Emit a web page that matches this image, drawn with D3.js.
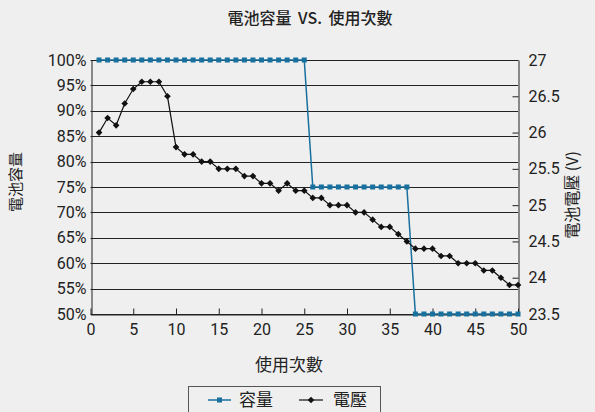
<!DOCTYPE html>
<html>
<head>
<meta charset="utf-8">
<script src="https://cdn.jsdelivr.net/npm/d3@7"></script>
<style>
  body { margin: 0; background: #efefef; }
  text { font-family: "Noto Sans CJK TC", "Noto Sans", sans-serif; fill: #222; }
  .num { font-family: Roboto, "Noto Sans", sans-serif; }
</style>
</head>
<body>
<script>
    // usage count, 1..50
    const cycles = d3.range(1, 51);
    // capacity (%) per cycle
    const capacity = [
        100,100,100,100,100,100,100,100,100,100,
        100,100,100,100,100,100,100,100,100,100,
        100,100,100,100,100,75,75,75,75,75,
        75,75,75,75,75,75,75,50,50,50,
        50,50,50,50,50,50,50,50,50,50
    ];
    // voltage (V) per cycle
    const voltage = [
        26.0,26.2,26.1,26.4,26.6,26.7,26.7,26.7,26.5,25.8,
        25.7,25.7,25.6,25.6,25.5,25.5,25.5,25.4,25.4,25.3,
        25.3,25.2,25.3,25.2,25.2,25.1,25.1,25.0,25.0,25.0,
        24.9,24.9,24.8,24.7,24.7,24.6,24.5,24.4,24.4,24.4,
        24.3,24.3,24.2,24.2,24.2,24.1,24.1,24.0,23.9,23.9
    ];
    const xTicks = d3.range(0, 51, 5);
    const capTicks = d3.range(50, 101, 5);
    const voltTicks = [23.5, 24, 24.5, 25, 25.5, 26, 26.5, 27];

    const W = 595, H = 412;
    const BLUE = '#17709e';

    const svg = d3.select('body').append('svg')
        .attr('width', W)
        .attr('height', H);

    svg.append('rect').attr('width', W).attr('height', H).attr('fill', '#efefef');

    const x = d3.scaleLinear().domain([0, 50]).range([90.5, 518]);
    const yL = d3.scaleLinear().domain([50, 100]).range([314, 60]);
    const yR = d3.scaleLinear().domain([23.5, 27]).range([314, 60]);

    // title
    svg.append('text')
        .attr('x', 310).attr('y', 24)
        .attr('text-anchor', 'middle')
        .style('font-size', '16px').style('font-weight', '500')
        .style('word-spacing', '3px')
        .text('電池容量 VS. 使用次數');

    // grid
    svg.append('g').selectAll('line').data(capTicks).join('line')
        .attr('x1', x(0)).attr('x2', x(50))
        .attr('y1', d => Math.round(yL(d)) + 0.5).attr('y2', d => Math.round(yL(d)) + 0.5)
        .attr('stroke', '#222').attr('stroke-width', 1);

    // left axis
    const gL = svg.append('g').attr('transform', `translate(${Math.round(x(0)) + 0.5},0)`)
        .call(d3.axisLeft(yL).tickValues(capTicks).tickSize(0).tickPadding(5).tickFormat(d => d + '%'));
    gL.select('.domain').attr('stroke', '#222');
    gL.selectAll('text').attr('class', 'num').style('font-size', '16px').attr('fill', '#222');

    // right axis
    const gR = svg.append('g').attr('transform', `translate(${Math.round(x(50)) + 0.5},0)`)
        .call(d3.axisRight(yR).tickValues(voltTicks).tickSize(0).tickPadding(10).tickFormat(d3.format('~g')));
    gR.select('.domain').attr('stroke', '#222');
    gR.selectAll('text').attr('class', 'num').style('font-size', '16px').attr('fill', '#222');
    gR.selectAll('.tick').append('line')
        .attr('x1', -6).attr('x2', 0).attr('stroke', '#222');

    // bottom axis
    const gB = svg.append('g').attr('transform', `translate(0,${Math.round(yL(50)) + 0.5})`)
        .call(d3.axisBottom(x).tickValues(xTicks).tickSize(0).tickPadding(9));
    gB.select('.domain').attr('stroke', '#222');
    gB.selectAll('text').attr('class', 'num').style('font-size', '16px').attr('fill', '#222');
    gB.selectAll('.tick').append('line')
        .attr('y1', -6).attr('y2', 0).attr('stroke', '#222');

    // axis titles
    svg.append('text')
        .attr('transform', 'translate(21,182) rotate(-90)')
        .attr('text-anchor', 'middle')
        .style('font-size', '15px')
        .text('電池容量');
    svg.append('text')
        .attr('transform', 'translate(578,195) rotate(-90)')
        .attr('text-anchor', 'middle')
        .style('font-size', '16px')
        .text('電池電壓 (V)');
    svg.append('text')
        .attr('x', 289).attr('y', 371)
        .attr('text-anchor', 'middle')
        .style('font-size', '17px')
        .text('使用次數');

    // capacity series
    const capLine = d3.line().x((d, i) => x(cycles[i])).y(d => yL(d));
    svg.append('path').datum(capacity)
        .attr('d', capLine)
        .attr('fill', 'none').attr('stroke', BLUE).attr('stroke-width', 1.5);
    svg.append('g').selectAll('rect').data(capacity).join('rect')
        .attr('x', (d, i) => x(cycles[i]) - 2.5)
        .attr('y', d => yL(d) - 2.5)
        .attr('width', 5).attr('height', 5)
        .attr('fill', BLUE);

    // voltage series
    const voltLine = d3.line().x((d, i) => x(cycles[i])).y(d => yR(d));
    svg.append('path').datum(voltage)
        .attr('d', voltLine)
        .attr('fill', 'none').attr('stroke', '#111').attr('stroke-width', 1.2);
    svg.append('g').selectAll('path').data(voltage).join('path')
        .attr('d', d3.symbol(d3.symbolDiamond2, 28))
        .attr('transform', (d, i) => `translate(${x(cycles[i])},${yR(d)})`)
        .attr('fill', '#111');

    // legend
    const lg = svg.append('g');
    lg.append('rect')
        .attr('x', 188.5).attr('y', 386.5).attr('width', 192).attr('height', 40)
        .attr('fill', '#efefef').attr('stroke', '#555');
    lg.append('line').attr('x1', 208).attr('x2', 231).attr('y1', 400).attr('y2', 400)
        .attr('stroke', BLUE).attr('stroke-width', 1.5);
    lg.append('rect').attr('x', 217).attr('y', 397.5).attr('width', 5).attr('height', 5).attr('fill', BLUE);
    lg.append('text').attr('x', 239).attr('y', 406).style('font-size', '17px').text('容量');
    lg.append('line').attr('x1', 299).attr('x2', 323).attr('y1', 400).attr('y2', 400)
        .attr('stroke', '#111').attr('stroke-width', 1.2);
    lg.append('path').attr('d', d3.symbol(d3.symbolDiamond2, 28))
        .attr('transform', 'translate(311,400)').attr('fill', '#111');
    lg.append('text').attr('x', 333).attr('y', 406).style('font-size', '17px').text('電壓');
</script>
</body>
</html>
